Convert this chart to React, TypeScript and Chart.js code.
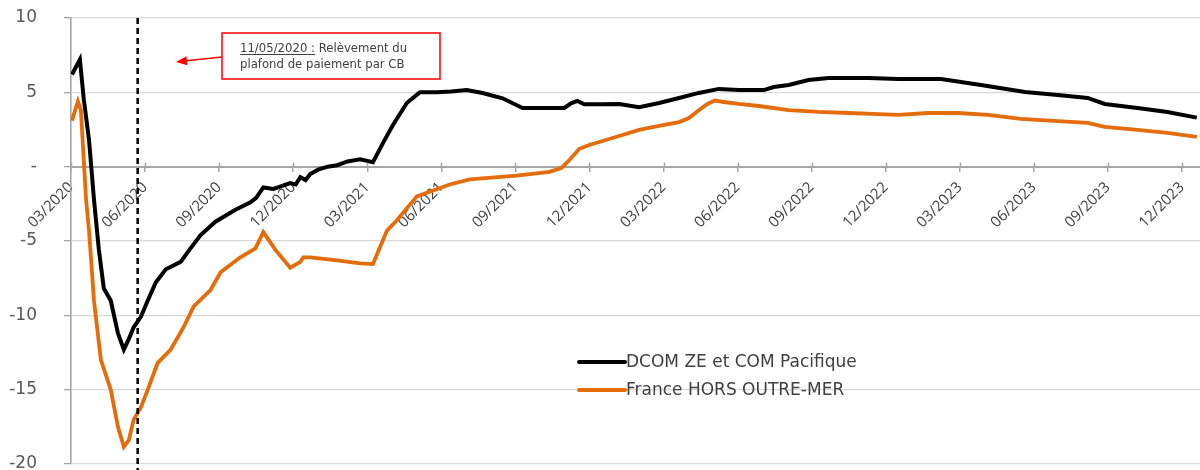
import React, { useEffect, useRef } from "react";
import { Chart, registerables } from "chart.js";

Chart.register(...registerables);

// x values are months elapsed since 03/2020
const TICK_MONTHS = [0, 3, 6, 9, 12, 15, 18, 21, 24, 27, 30, 33, 36, 39, 42, 45];
const TICK_LABELS = [
  "03/2020", "06/2020", "09/2020", "12/2020",
  "03/2021", "06/2021", "09/2021", "12/2021",
  "03/2022", "06/2022", "09/2022", "12/2022",
  "03/2023", "06/2023", "09/2023", "12/2023",
];
const X_MAX = 45.73;
const Y_MIN = -20;
const Y_MAX = 10;
const Y_STEP = 5;

const SERIES_NAMES = ["DCOM ZE et COM Pacifique", "France HORS OUTRE-MER"];

const DCOM_MONTHS = [
  0.04, 0.36, 0.52, 0.73, 0.93, 1.13, 1.33, 1.61, 1.9, 2.14, 2.34, 2.54, 2.83, 3.11,
  3.43, 3.84, 4.44, 4.84, 5.25, 5.85, 6.66, 7.27, 7.5, 7.79, 8.2, 8.88, 9.1, 9.29,
  9.5, 9.69, 10.01, 10.4, 10.78, 11.2, 11.71, 12.23, 12.64, 13.04, 13.61, 14.13,
  14.82, 15.4, 16.03, 16.67, 17.48, 18.29, 19.38, 19.98, 20.27, 20.51, 20.79, 21.5,
  22.2, 23.01, 23.82, 24.63, 25.43, 26.24, 27.05, 28.06, 28.46, 29.07, 29.87, 30.68,
  32.3, 33.51, 35.24, 36.86, 38.64, 39.97, 41.18, 41.87, 43.2, 44.41, 45.6,
];
const DCOM_VALUES = [
  6.2, 7.2, 4.5, 1.8, -2.2, -5.6, -8.2, -9.0, -11.2, -12.3, -11.6, -10.8, -10.1, -9.0,
  -7.8, -6.9, -6.4, -5.5, -4.6, -3.7, -2.9, -2.4, -2.1, -1.4, -1.5, -1.1, -1.2, -0.7,
  -0.9, -0.5, -0.2, 0.0, 0.1, 0.35, 0.5, 0.3, 1.6, 2.8, 4.3, 5.0,
  5.0, 5.05, 5.15, 4.95, 4.6, 3.95, 3.95, 3.95, 4.28, 4.42, 4.2, 4.2,
  4.22, 4.0, 4.28, 4.62, 4.96, 5.23, 5.15, 5.15, 5.36, 5.49, 5.83, 5.97,
  5.97, 5.9, 5.9, 5.49, 5.02, 4.82, 4.62, 4.22, 3.95, 3.68, 3.3,
];

const FRANCE_MONTHS = [
  0.04, 0.28, 0.4, 0.61, 0.73, 0.93, 1.21, 1.61, 1.9, 2.14, 2.34, 2.54, 2.83, 3.11,
  3.51, 4.04, 4.56, 4.97, 5.65, 6.06, 6.86, 7.47, 7.79, 8.28, 8.88, 9.29, 9.41, 9.69,
  10.78, 11.71, 12.23, 12.8, 13.2, 14.01, 15.34, 16.15, 18.05, 19.38, 19.86, 20.19,
  20.59, 20.99, 21.4, 22.2, 23.01, 23.82, 24.63, 25.03, 25.43, 25.76, 26.08, 26.44,
  27.05, 27.86, 29.07, 30.28, 31.49, 32.7, 33.51, 34.72, 35.93, 37.14, 38.47, 39.97,
  41.18, 41.87, 43.2, 44.41, 45.6,
];
const FRANCE_VALUES = [
  3.1, 4.4, 3.8, -2.2, -4.3, -9.0, -13.0, -15.0, -17.5, -18.85, -18.4, -17.0, -16.2, -15.0,
  -13.2, -12.3, -10.8, -9.4, -8.3, -7.1, -6.1, -5.5, -4.4, -5.6, -6.8, -6.4, -6.1, -6.1,
  -6.3, -6.5, -6.55, -4.3, -3.6, -2.0, -1.2, -0.85, -0.6, -0.35, -0.1, 0.45,
  1.2, 1.46, 1.66, 2.06, 2.47, 2.74, 3.0, 3.27, 3.8, 4.2, 4.45, 4.35,
  4.22, 4.08, 3.81, 3.68, 3.61, 3.54, 3.48, 3.61, 3.61, 3.48, 3.21, 3.07,
  2.94, 2.67, 2.47, 2.27, 2.0,
];

const ANNOTATION_MONTH = 2.7;
const ANNOTATION_DATE = "11/05/2020 :";
const ANNOTATION_LINES = [" Relèvement du", "plafond de paiement par CB"];

const BLACK = "#000000";
const ORANGE = "#E46C0A";
const AXIS_GRAY = "#a6a6a6";
const GRID_GRAY = "#d9d9d9";

const toPoints = (xs: number[], ys: number[]) => xs.map((x, i) => ({ x, y: ys[i] }));

const overlayPlugin = {
  id: "overlay",
  afterDatasetsDraw(chart: any) {
    const { ctx, chartArea, scales } = chart;
    const xs = scales.x;
    const ys = scales.y;
    const y0 = ys.getPixelForValue(0);
    ctx.save();

    // upper halves of x tick marks
    ctx.strokeStyle = AXIS_GRAY;
    ctx.lineWidth = 1.5;
    TICK_MONTHS.forEach((m) => {
      const px = Math.round(xs.getPixelForValue(m)) + 0.5;
      ctx.beginPath();
      ctx.moveTo(px, y0 - 4);
      ctx.lineTo(px, y0);
      ctx.stroke();
    });

    // dashed vertical line
    const dx = xs.getPixelForValue(ANNOTATION_MONTH);
    ctx.strokeStyle = "#000";
    ctx.lineWidth = 2.5;
    ctx.setLineDash([6, 4]);
    ctx.beginPath();
    ctx.moveTo(dx, chartArea.top);
    ctx.lineTo(dx, chartArea.bottom + 6);
    ctx.stroke();
    ctx.setLineDash([]);

    // annotation box
    const bx = 222, by = 33, bw = 218, bh = 46;
    ctx.fillStyle = "#fff";
    ctx.fillRect(bx, by, bw, bh);
    ctx.strokeStyle = "#ff0000";
    ctx.lineWidth = 1.5;
    ctx.strokeRect(bx, by, bw, bh);

    ctx.font = "11.7px 'DejaVu Sans'";
    ctx.fillStyle = "#404040";
    ctx.textBaseline = "alphabetic";
    ctx.textAlign = "left";
    const tx = 240;
    ctx.fillText(ANNOTATION_DATE, tx, 52);
    const dw = ctx.measureText(ANNOTATION_DATE).width;
    ctx.strokeStyle = "#404040";
    ctx.lineWidth = 1;
    ctx.beginPath();
    ctx.moveTo(tx, 54.5);
    ctx.lineTo(tx + dw, 54.5);
    ctx.stroke();
    ctx.fillText(ANNOTATION_LINES[0], tx + dw, 52);
    ctx.fillText(ANNOTATION_LINES[1], tx, 68);

    // arrow
    const ax0 = bx, ay0 = 57, ax1 = 176, ay1 = 62;
    ctx.strokeStyle = "#ff0000";
    ctx.fillStyle = "#ff0000";
    ctx.lineWidth = 1.5;
    ctx.beginPath();
    ctx.moveTo(ax0, ay0);
    ctx.lineTo(ax1 + 8, ay1 - 0.9);
    ctx.stroke();
    const ang = Math.atan2(ay1 - ay0, ax1 - ax0);
    ctx.beginPath();
    ctx.moveTo(ax1, ay1);
    ctx.lineTo(ax1 - 11 * Math.cos(ang) + 4.5 * Math.sin(ang), ay1 - 11 * Math.sin(ang) - 4.5 * Math.cos(ang));
    ctx.lineTo(ax1 - 11 * Math.cos(ang) - 4.5 * Math.sin(ang), ay1 - 11 * Math.sin(ang) + 4.5 * Math.cos(ang));
    ctx.closePath();
    ctx.fill();

    // legend
    const legendItems = [
      { label: SERIES_NAMES[0], color: BLACK, y: 362 },
      { label: SERIES_NAMES[1], color: ORANGE, y: 390 },
    ];
    ctx.font = "17px 'DejaVu Sans'";
    ctx.textBaseline = "middle";
    legendItems.forEach((it) => {
      ctx.strokeStyle = it.color;
      ctx.lineWidth = 4;
      ctx.lineCap = "round";
      ctx.beginPath();
      ctx.moveTo(579, it.y);
      ctx.lineTo(625, it.y);
      ctx.stroke();
      ctx.fillStyle = "#404040";
      ctx.fillText(it.label, 626, it.y + 1);
    });

    ctx.restore();
  },
};

export default function App() {
  const canvasRef = useRef<HTMLCanvasElement | null>(null);

  useEffect(() => {
    if (!canvasRef.current) return;
    const chart = new Chart(canvasRef.current, {
      type: "line",
      data: {
        datasets: [
          {
            label: SERIES_NAMES[0],
            data: toPoints(DCOM_MONTHS, DCOM_VALUES),
            borderColor: BLACK,
            backgroundColor: BLACK,
            borderWidth: 4,
            pointRadius: 0,
            tension: 0,
          },
          {
            label: SERIES_NAMES[1],
            data: toPoints(FRANCE_MONTHS, FRANCE_VALUES),
            borderColor: ORANGE,
            backgroundColor: ORANGE,
            borderWidth: 3.8,
            pointRadius: 0,
            tension: 0,
          },
        ],
      },
      options: {
        animation: false,
        responsive: false,
        devicePixelRatio: 1,
        layout: { padding: { top: 18, bottom: 6, left: 0, right: 0 } },
        plugins: { legend: { display: false }, tooltip: { enabled: false } },
        scales: {
          x: {
            type: "linear",
            min: 0,
            max: X_MAX,
            position: { y: 0 } as any,
            afterBuildTicks: (s: any) => {
              s.ticks = TICK_MONTHS.map((v) => ({ value: v }));
            },
            afterFit: (s: any) => {
              s.height = 0;
              s.paddingLeft = 0;
              s.paddingRight = 0;
            },
            ticks: {
              autoSkip: false,
              minRotation: 45,
              maxRotation: 45,
              padding: 8,
              color: "#404040",
              font: { family: "'Open Sans'", size: 15 },
              callback: (_v: any, i: number) => TICK_LABELS[i],
            },
            grid: {
              drawOnChartArea: false,
              tickLength: 4,
              color: AXIS_GRAY,
              lineWidth: 1.5,
            },
            border: { color: AXIS_GRAY, width: 2 },
          },
          y: {
            min: Y_MIN,
            max: Y_MAX,
            ticks: {
              stepSize: Y_STEP,
              padding: 27,
              color: "#595959",
              font: { family: "'DejaVu Sans'", size: 17 },
              callback: (v: any) => (v === 0 ? "-" : String(v)),
            },
            grid: {
              color: GRID_GRAY,
              lineWidth: 1.3,
              tickLength: 7,
              tickColor: AXIS_GRAY,
            },
            border: { color: AXIS_GRAY, width: 1.6 },
            afterFit: (s: any) => {
              s.width = 71;
              s.paddingTop = 0;
              s.paddingBottom = 0;
            },
          },
        },
      },
      plugins: [overlayPlugin],
    });
    return () => chart.destroy();
  }, []);

  return (
    <div style={{ position: "absolute", left: 0, top: 0, width: 1200, height: 470, background: "#fff" }}>
      <canvas ref={canvasRef} width={1200} height={470} />
    </div>
  );
}
